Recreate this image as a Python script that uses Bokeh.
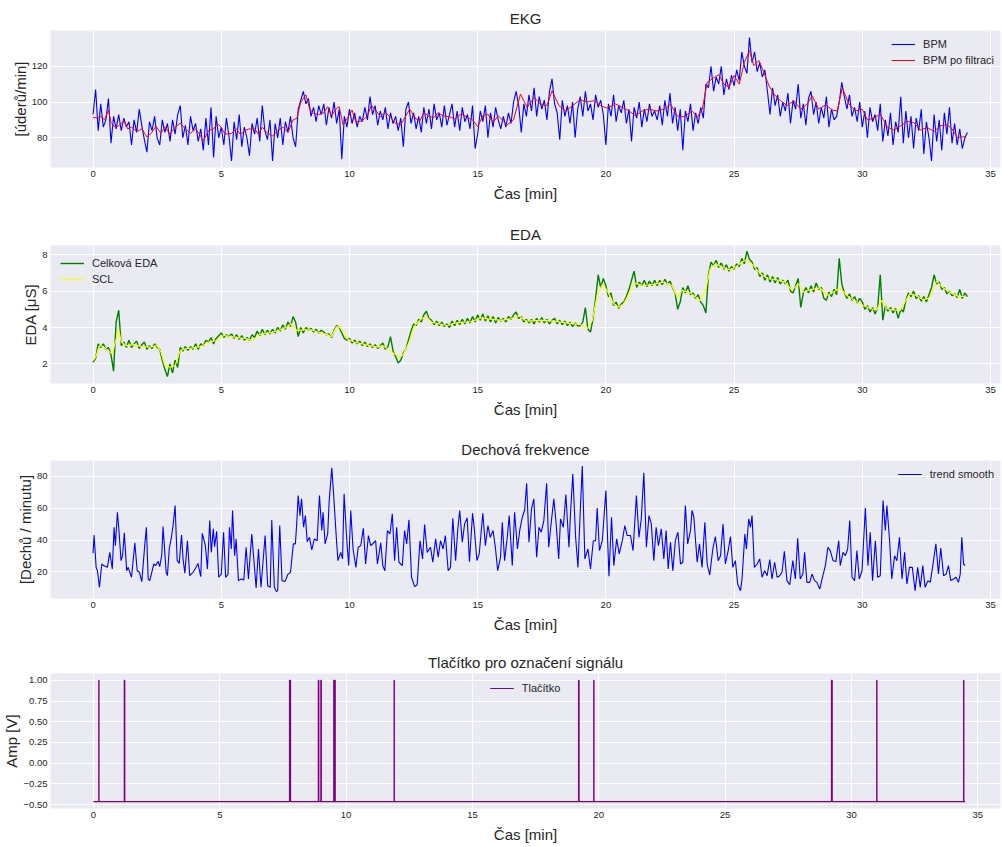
import numpy as np
from bokeh.plotting import figure
from bokeh.layouts import column
from bokeh.models import Range1d, FixedTicker
from bokeh.embed import file_html
from bokeh.resources import INLINE

FONT = "Liberation Sans"
TXT = "#262626"
BG = "#EAEAF2"

# ---------------- EKG ----------------
bpm_step = 0.1  # min
bpm_raw = [
    93, 107, 84, 99, 86, 90, 102, 77, 92, 85,
    93, 84, 91, 86, 89, 76, 90, 83, 96, 87,
    79, 72, 89, 84, 92, 80, 76, 90, 83, 88,
    78, 90, 82, 93, 98, 80, 87, 76, 92, 84,
    88, 78, 85, 73, 91, 76, 97, 69, 92, 80,
    86, 76, 91, 81, 67, 89, 79, 93, 75, 86,
    80, 70, 88, 82, 91, 78, 98, 84, 79, 90,
    67, 88, 80, 91, 76, 89, 83, 92, 80, 75,
    96, 101, 106, 99, 102, 92, 97, 89, 98, 93,
    99, 87, 97, 91, 100, 88, 96, 68, 92, 86,
    96, 88, 94, 86, 92, 89, 97, 90, 103, 93,
    98, 87, 95, 90, 97, 85, 94, 88, 92, 84,
    91, 75, 96, 100, 88, 94, 85, 92, 83, 97,
    88, 96, 85, 99, 90, 94, 86, 98, 87, 93,
    99, 86, 95, 84, 97, 89, 93, 85, 98, 74,
    82, 95, 89, 98, 80, 94, 86, 97, 90, 85,
    92, 86, 94, 88, 100, 106, 98, 83, 99, 92,
    104, 95, 108, 92, 103, 96, 101, 90, 106, 113,
    99, 94, 79, 101, 92, 98, 88, 100, 80, 96,
    103, 92, 106, 95, 99, 90, 104, 97, 101, 93,
    76, 99, 92, 104, 89, 98, 94, 101, 88, 96,
    78, 97, 91, 100, 86, 96, 89, 99, 92, 95,
    90, 98, 87, 101, 92, 105, 88, 97, 84, 96,
    73, 95, 89, 99, 84, 94, 88, 97, 91, 110,
    108, 120, 106, 114, 110, 120, 104, 113, 107, 115,
    109, 118, 112, 128, 120, 116, 136, 122, 128, 117,
    122, 114, 118, 106, 93, 108, 98, 104, 92, 100,
    95, 105, 88, 101, 96, 110, 91, 99, 87, 102,
    106, 93, 100, 88, 97, 91, 103, 86, 96, 90,
    92, 100, 111, 103, 96, 104, 92, 97, 89, 100,
    86, 95, 80, 97, 89, 93, 84, 99, 78, 90,
    81, 94, 76, 89, 83, 103, 77, 95, 80, 92,
    74, 91, 84, 96, 71, 89, 80, 67, 93, 78,
    90, 73, 94, 82, 97, 77, 88, 76, 85, 74,
    80, 83,
]
filt_t = [
    0, 0.2, 0.3, 0.45, 0.6, 0.7, 0.85, 1.0, 1.2, 1.35,
    1.5, 1.7, 1.9, 2.1, 2.3, 2.45, 2.65, 2.8, 3.0, 3.2,
    3.4, 3.6, 3.8, 4.0, 4.15, 4.3, 4.5, 4.7, 4.85, 5.0,
    5.15, 5.4, 5.6, 5.75, 5.9, 6.1, 6.3, 6.45, 6.6, 6.8,
    7.0, 7.2, 7.4, 7.6, 7.8, 7.95, 8.1, 8.3, 8.45, 8.6,
    8.8, 9.0, 9.15, 9.3, 9.5, 9.6, 9.75, 9.9, 10.1, 10.25,
    10.5, 10.7, 10.85, 11.0, 11.2, 11.4, 11.6, 11.8, 12.0, 12.2,
    12.35, 12.6, 12.75, 12.9, 13.1, 13.3, 13.45, 13.65, 13.9, 14.1,
    14.35, 14.6, 14.8, 15.0, 15.2, 15.4, 15.6, 15.8, 16.15, 16.4,
    16.67, 16.93, 17.2, 17.45, 17.7, 17.9, 18.17, 18.43, 18.7, 19.0,
    19.27, 19.53, 19.8, 20.05, 20.38, 20.64, 20.9, 21.16, 21.42, 21.68,
    22.0, 22.33, 22.52, 22.78, 23.04, 23.37, 23.56, 23.76, 23.95, 24.2,
    24.4, 24.6, 24.8, 25.0, 25.2, 25.4, 25.6, 25.77, 25.97, 26.16,
    26.36, 26.55, 26.81, 27.07, 27.33, 27.6, 27.85, 28.05, 28.3, 28.57,
    28.83, 29.02, 29.22, 29.48, 29.74, 30.0, 30.2, 30.45, 30.7, 30.97,
    31.23, 31.5, 31.75, 32.0, 32.27, 32.53, 32.8, 33.05, 33.3, 33.5,
    33.7, 33.97, 34.05,
]
filt_v = [
    91.4, 91, 92, 90, 95.5, 88.6, 86, 86.7, 89.5, 85,
    86, 83.5, 85, 80.5, 83, 86.5, 82.5, 86, 82, 86,
    88.2, 85, 82.5, 85, 82, 78.3, 84, 85, 87.7, 86,
    82, 82.5, 85, 81.7, 84, 85, 85, 82, 86, 82.6,
    81, 84, 86, 83, 90, 91, 100, 104, 96, 93.6,
    93, 94, 97.4, 92.3, 96.6, 97.4, 87.3, 90.5, 95.5, 88.6,
    89.5, 92.3, 98, 96, 91.8, 94.2, 91.4, 88, 87.3, 92.3,
    96, 90.5, 89.5, 94.2, 91.8, 91.4, 94, 92.3, 91.8, 90.5,
    93.3, 91.4, 90, 86.2, 92.3, 93.3, 88.6, 92.3, 87.3, 90,
    104.5, 97, 102.6, 98.9, 98, 106.3, 98, 95, 98, 101.3,
    100, 100.7, 98, 96.6, 98.9, 97, 95, 92.3, 95, 96,
    95, 96.4, 98.9, 92.3, 91.8, 95, 91.4, 96, 111, 113.5,
    115.3, 110, 108.2, 114.8, 110, 122.2, 128.8, 120.4, 123.2, 116.6,
    109.2, 104.5, 100.7, 98, 100.7, 96, 98.9, 103.5, 96, 98.5,
    95.5, 95, 107.9, 98.9, 95, 96, 90, 91, 93.3, 86.2,
    84.3, 86.7, 89.2, 88.6, 84.3, 85.8, 83.5, 86.7, 87.3, 85,
    80.2, 80.6, 80.2,
]

# ---------------- EDA ----------------
eda_step = 0.1
eda_total = [
    2.1, 2.3, 3.1, 2.9, 3.1, 2.8, 2.9, 2.5, 1.6, 4.3,
    4.95, 3.0, 3.2, 2.9, 3.3, 2.9, 3.1, 3.25, 2.85, 3.05,
    3.2, 2.8, 3.0, 2.85, 3.1, 2.9, 2.8, 2.2, 1.7, 1.3,
    2.0, 1.5, 2.2, 1.8, 2.9, 2.7, 2.95, 2.75, 2.95, 2.8,
    3.1, 2.8, 3.1, 3.0, 3.3, 3.2, 3.45, 3.1, 3.4, 3.55,
    3.7, 3.45, 3.6, 3.5, 3.65, 3.4, 3.6, 3.35, 3.55, 3.3,
    3.45, 3.3, 3.6, 3.45, 3.8, 3.55, 3.9, 3.6, 3.85, 3.65,
    3.9, 3.7, 4.0, 3.8, 4.15, 3.9, 4.3, 4.05, 4.6, 4.3,
    3.5, 4.0, 3.7, 4.0, 3.85, 3.95, 3.75, 3.9, 3.7, 3.85,
    3.75, 3.6, 3.65, 3.45, 3.85, 4.1, 4.0, 3.7, 3.4, 3.3,
    3.4, 3.15, 3.3, 3.1, 3.25, 3.0, 3.2, 2.95, 3.1, 2.9,
    3.05, 2.85, 3.0, 3.15, 2.8, 2.95, 3.5, 2.7, 2.4, 2.05,
    2.2, 2.6, 2.8, 3.3, 3.8, 4.2, 4.1, 4.45, 4.3, 4.7,
    4.9, 4.5, 4.4, 4.15, 4.35, 4.1, 4.3, 4.05, 4.2, 4.0,
    4.35, 4.1, 4.4, 4.15, 4.45, 4.2, 4.5, 4.25, 4.6, 4.3,
    4.7, 4.4, 4.75, 4.35, 4.65, 4.3, 4.6, 4.25, 4.55, 4.35,
    4.5, 4.3, 4.6, 4.45, 4.7, 4.85, 4.5, 4.6, 4.3, 4.45,
    4.25, 4.45, 4.2, 4.5, 4.3, 4.55, 4.25, 4.45, 4.2, 4.4,
    4.5, 4.2, 4.4, 4.15, 4.35, 4.1, 4.3, 4.05, 4.25, 4.1,
    4.1, 4.3, 5.1, 3.9, 3.75, 4.5, 5.6, 6.9, 6.2, 6.7,
    6.3, 5.7, 5.9, 5.2, 5.4, 5.05, 5.3, 5.4, 5.7, 6.1,
    6.6, 7.1, 6.2, 6.5, 6.3, 6.6, 6.25, 6.55, 6.3, 6.6,
    6.3, 6.6, 6.35, 6.65, 6.4, 6.55, 6.2, 5.9, 5.0, 5.4,
    6.2, 5.9, 6.3, 5.8, 5.9, 5.6, 5.8, 5.4, 5.2, 4.8,
    6.9, 7.6, 7.4, 7.7, 7.3, 7.55, 7.2, 7.45, 7.1, 7.35,
    7.2, 7.5, 7.35, 7.8, 7.5, 8.2, 7.75, 7.6, 7.2, 7.3,
    6.8, 7.0, 6.6, 6.9, 6.5, 6.8, 6.45, 6.75, 6.4, 6.6,
    6.4, 6.6, 6.0, 5.9, 6.3, 6.7, 5.1, 5.9, 6.2, 5.9,
    6.3, 5.95, 6.45, 6.1, 6.2, 5.6, 5.5, 5.95, 5.7, 6.1,
    5.8, 7.8, 6.4, 5.9, 5.6, 5.85, 5.5, 5.7, 5.35, 5.6,
    5.4, 5.0, 5.2, 4.85, 5.1, 4.75, 5.1, 6.9, 4.4, 5.2,
    4.9, 5.1, 4.8, 5.05, 4.5, 5.0, 4.85, 5.5, 5.9, 5.7,
    6.0, 5.6, 5.75, 5.45, 5.7, 5.4, 5.8, 6.2, 6.9, 6.4,
    6.5, 6.1, 6.2, 5.85, 6.0, 5.75, 5.85, 5.65, 6.1, 5.6,
    5.9, 5.7,
]
scl_t = [
    0, 0.1, 0.25, 0.4, 0.55, 0.75, 0.85, 1.0, 1.1, 1.3,
    1.6, 1.9, 2.2, 2.5, 2.65, 2.8, 3.0, 3.2, 3.4, 3.6,
    3.9, 4.2, 4.5, 4.8, 5.1, 5.4, 5.7, 6.0, 6.2, 6.5,
    6.8, 7.0, 7.3, 7.55, 7.75, 7.95, 8.2, 8.5, 8.8, 9.1,
    9.3, 9.5, 9.65, 9.9, 10.2, 10.5, 10.8, 11.1, 11.3, 11.5,
    11.75, 11.95, 12.1, 12.3, 12.55, 12.8, 13.0, 13.2, 13.5, 13.8,
    14.1, 14.4, 14.8, 15.1, 15.5, 15.9, 16.3, 16.6, 16.9, 17.45,
    17.98, 18.5, 19.0, 19.27, 19.47, 19.66, 19.86, 20.05, 20.3, 20.5,
    20.7, 20.9, 21.1, 21.48, 21.87, 22.26, 22.58, 22.78, 22.97, 23.3,
    23.68, 23.88, 24.07, 24.27, 24.6, 24.85, 25.1, 25.3, 25.5, 25.76,
    26.02, 26.34, 26.67, 26.99, 27.25, 27.51, 27.7, 27.96, 28.35, 28.61,
    28.87, 29.13, 29.39, 29.71, 30.04, 30.36, 30.56, 30.75, 30.95, 31.2,
    31.47, 31.66, 31.85, 32.11, 32.37, 32.63, 32.89, 33.15, 33.48, 33.74,
    34.0,
]
scl_v = [
    2.18, 2.37, 3.0, 2.95, 2.77, 2.55, 3.1, 3.87, 3.2, 3.0,
    3.06, 2.95, 2.92, 3.0, 2.64, 1.9, 1.82, 1.9, 2.73, 2.83,
    2.88, 2.95, 3.2, 3.28, 3.56, 3.5, 3.43, 3.38, 3.28, 3.62,
    3.69, 3.74, 3.87, 4.02, 4.2, 3.83, 3.87, 3.87, 3.74, 3.62,
    3.5, 4.05, 3.98, 3.38, 3.19, 3.1, 3.0, 2.92, 3.0, 2.83,
    2.55, 2.37, 2.51, 3.1, 4.11, 4.48, 4.6, 4.29, 4.2, 4.11,
    4.24, 4.28, 4.33, 4.53, 4.46, 4.39, 4.48, 4.64, 4.35, 4.39,
    4.35, 4.24, 4.17, 3.93, 4.39, 5.76, 6.37, 6.04, 5.3, 5.12,
    5.3, 5.85, 6.44, 6.31, 6.37, 6.5, 6.31, 5.67, 6.04, 5.89,
    5.49, 6.04, 7.23, 7.5, 7.28, 7.17, 7.36, 7.6, 7.72, 7.41,
    6.95, 6.68, 6.62, 6.5, 6.04, 6.4, 5.94, 6.07, 6.18, 5.76,
    5.94, 6.18, 5.76, 5.49, 5.21, 5.03, 4.97, 5.49, 5.03, 4.97,
    4.94, 5.39, 5.85, 5.76, 5.52, 5.63, 6.55, 6.18, 5.89, 5.71,
    5.71,
]

# ---------------- Dechová frekvence ----------------
resp_t = [
    0.0, 0.04, 0.12, 0.17, 0.25, 0.34, 0.41, 0.56, 0.65, 0.75,
    0.82, 0.87, 0.95, 1.01, 1.09, 1.15, 1.22, 1.31, 1.37, 1.5,
    1.63, 1.72, 1.81, 1.9, 2.02, 2.08, 2.15, 2.21, 2.37, 2.44,
    2.54, 2.6, 2.68, 2.73, 2.85, 2.9, 2.97, 3.06, 3.12, 3.2,
    3.28, 3.36, 3.45, 3.51, 3.58, 3.68, 3.77, 3.9, 4.03, 4.09,
    4.2, 4.26, 4.38, 4.46, 4.55, 4.61, 4.69, 4.74, 4.82, 4.9,
    5.0, 5.09, 5.17, 5.26, 5.32, 5.39, 5.44, 5.52, 5.58, 5.67,
    5.78, 5.88, 5.97, 6.06, 6.19, 6.36, 6.45, 6.55, 6.71, 6.81,
    6.91, 6.97, 7.07, 7.15, 7.2, 7.28, 7.37, 7.49, 7.59, 7.7,
    7.81, 7.89, 7.94, 8.0, 8.07, 8.13, 8.21, 8.28, 8.35, 8.44,
    8.53, 8.63, 8.74, 8.83, 8.92, 8.97, 9.05, 9.15, 9.21, 9.31,
    9.38, 9.49, 9.55, 9.66, 9.73, 9.79, 9.9, 9.97, 10.05, 10.14,
    10.25, 10.34, 10.44, 10.54, 10.63, 10.74, 10.83, 10.93, 11.02, 11.09,
    11.22, 11.3, 11.38, 11.48, 11.58, 11.67, 11.76, 11.84, 11.93, 12.06,
    12.15, 12.23, 12.32, 12.42, 12.54, 12.64, 12.75, 12.85, 12.93, 13.03,
    13.16, 13.25, 13.36, 13.46, 13.55, 13.65, 13.74, 13.85, 13.94, 14.03,
    14.14, 14.22, 14.3, 14.4, 14.49, 14.59, 14.68, 14.8, 14.87, 14.97,
    15.06, 15.2, 15.3, 15.4, 15.49, 15.6, 15.69, 15.78, 15.89, 15.96,
    16.05, 16.16, 16.23, 16.35, 16.44, 16.55, 16.64, 16.74, 16.83, 16.91,
    17.0, 17.1, 17.19, 17.3, 17.39, 17.48, 17.58, 17.69, 17.77, 17.87,
    17.97, 18.05, 18.16, 18.23, 18.34, 18.44, 18.56, 18.62, 18.71, 18.82,
    18.91, 18.99, 19.08, 19.18, 19.3, 19.4, 19.51, 19.6, 19.66, 19.75,
    19.86, 20.0, 20.12, 20.22, 20.31, 20.42, 20.52, 20.64, 20.74, 20.83,
    20.96, 21.06, 21.19, 21.29, 21.38, 21.48, 21.58, 21.68, 21.77, 21.87,
    21.96, 22.05, 22.16, 22.26, 22.35, 22.43, 22.52, 22.61, 22.71, 22.81,
    22.91, 23.0, 23.1, 23.19, 23.3, 23.36, 23.43, 23.56, 23.65, 23.75,
    23.86, 23.95, 24.05, 24.17, 24.27, 24.38, 24.47, 24.57, 24.66, 24.77,
    24.86, 24.95, 25.05, 25.14, 25.25, 25.31, 25.42, 25.48, 25.57, 25.64,
    25.7, 25.79, 25.9, 26.0, 26.09, 26.19, 26.29, 26.39, 26.48, 26.58,
    26.68, 26.78, 26.87, 26.96, 27.06, 27.17, 27.29, 27.39, 27.48, 27.58,
    27.68, 27.75, 27.84, 27.95, 28.04, 28.14, 28.23, 28.34, 28.43, 28.56,
    28.66, 28.75, 28.86, 28.97, 29.08, 29.14, 29.25, 29.34, 29.43, 29.51,
    29.6, 29.7, 29.79, 29.88, 29.99, 30.12, 30.22, 30.31, 30.4, 30.51,
    30.6, 30.7, 30.81, 30.9, 30.96, 31.06, 31.15, 31.26, 31.35, 31.45,
    31.55, 31.65, 31.74, 31.84, 31.95, 32.06, 32.16, 32.26, 32.36, 32.45,
    32.56, 32.65, 32.75, 32.87, 32.97, 33.06, 33.17, 33.27, 33.36, 33.45,
    33.56, 33.66, 33.75, 33.82, 33.88, 33.95, 34.01,
]
resp_v = [
    31.7, 43.2, 22.9, 20.8, 10.4, 25, 24, 22.9, 32.3, 21.9,
    48, 36.5, 57.4, 46, 27.1, 30.2, 44.5, 20.8, 22.9, 16.7,
    38.2, 20.8, 19.8, 13.9, 37.6, 48, 15.6, 14.6, 25, 24,
    26.7, 23.3, 30.7, 48.4, 19.8, 17.7, 34.4, 42.2, 49.1, 61.6,
    27.1, 25.4, 43.2, 28.2, 19.2, 39.6, 17.7, 19.8, 23.3, 25.4,
    17.1, 44.2, 36.5, 21.9, 52.2, 32.3, 47, 35.9, 45.5, 16.7,
    18.7, 44.9, 16.7, 18.3, 48, 34.4, 58.5, 30.2, 40.7, 14.6,
    15.6, 15, 35.5, 15.6, 43.8, 10, 34.4, 10.4, 42.8, 11.4,
    10.4, 52.6, 10.4, 7.7, 8.3, 49.1, 14.6, 14.1, 18.3, 19.8,
    37.6, 37.6, 49.5, 67.9, 55.3, 65.8, 48, 55.3, 39, 41.7,
    33.8, 40.7, 39.6, 67.9, 46, 57.4, 37.6, 43.8, 64.7, 85.2,
    68.9, 40.7, 27.1, 32.3, 28.2, 68.9, 38.6, 24, 58.5, 34.4,
    22.9, 35.5, 36.5, 47.4, 25, 42.8, 36.5, 38, 39.6, 25,
    38.2, 24, 20.8, 46, 43.8, 56.4, 27.1, 48, 26.1, 24,
    46, 37.6, 52.6, 16.7, 10.8, 12, 39.6, 28.2, 49.7, 32.3,
    35.5, 26.1, 40.7, 29.2, 39.6, 34.4, 42.8, 20.8, 22.9, 53.6,
    27.1, 46, 58.5, 38.6, 50.1, 53.9, 26.5, 56.8, 47, 27.1,
    31.3, 56.8, 36.5, 49.1, 41.7, 46, 35.5, 20.8, 29.2, 51.1,
    27.1, 42.8, 55.3, 24, 57.4, 34.4, 46, 54.3, 58.5, 75.6,
    38.6, 59.5, 65.8, 29.2, 48, 44.9, 52.2, 75.6, 35.5, 51.1,
    65.8, 52.2, 28.2, 53.2, 48, 68.5, 35.5, 56.4, 81.4, 41.7,
    22.9, 54.3, 86.3, 28.2, 34.4, 21.9, 39.6, 39.6, 60.1, 33.4,
    39.6, 71, 17.3, 54.3, 24, 40.7, 31.3, 39.6, 49.1, 42.8,
    42.8, 33.4, 67.9, 41.7, 53.2, 82.1, 35.5, 55.3, 50.1, 27.1,
    48, 36.5, 47, 28.2, 46, 21.9, 38.6, 20.8, 39.6, 44.9,
    25, 26.1, 61.6, 37.6, 46, 58.5, 54.3, 26.1, 37.6, 22.9,
    51.1, 25, 18.1, 34.4, 42.2, 27.1, 30.2, 50.1, 25, 33.4,
    42.2, 22.9, 27.1, 12.5, 8.3, 15.6, 43.8, 34.4, 53.2, 48,
    55.3, 22.9, 25, 28.2, 16.7, 20.8, 17.7, 27.7, 15.6, 26.1,
    16.7, 17.7, 19.8, 33, 14.6, 12, 27.1, 15.6, 41.1, 15.6,
    18.7, 32.3, 13.5, 13.5, 18.7, 14.6, 13.5, 9.3, 15.6, 24,
    35.5, 33.4, 27.1, 26.5, 39.6, 24, 32.3, 30.2, 34.4, 52.2,
    16.7, 14.6, 33.4, 15.6, 20.8, 60.1, 24, 44.9, 14.6, 39.6,
    16.7, 17.7, 64.7, 46, 61.6, 40.7, 15.6, 30.2, 27.1, 41.7,
    15.6, 32.3, 12.5, 22.9, 22.9, 8.3, 22.9, 10.4, 24, 10.4,
    14.6, 13.5, 24, 37.6, 18.7, 35, 17.7, 18.7, 24, 14.6,
    15.6, 16.7, 13.5, 18.7, 41.7, 25, 24,
]

# ---------------- Tlačítko ----------------
press_t = [0.21, 1.22, 7.76, 8.90, 9.00, 9.51, 9.55, 11.90, 19.20, 19.80, 29.21, 31.00, 34.44]
press_w = [0.01, 0.02, 0.04, 0.02, 0.02, 0.02, 0.02, 0.01, 0.02, 0.01, 0.03, 0.01, 0.01]
btn_low = -0.465
btn_high = 1.0
btn_end = 34.5

btn_x = [0.0]
btn_y = [btn_low]
for t, w in zip(press_t, press_w):
    btn_x += [t, t, t + w, t + w]
    btn_y += [btn_low, btn_high, btn_high, btn_low]
btn_x.append(btn_end)
btn_y.append(btn_low)

bpm_t = list(np.round(np.arange(len(bpm_raw)) * bpm_step, 3))
eda_t = list(np.round(np.arange(len(eda_total)) * eda_step, 3))

x_ticks = [0, 5, 10, 15, 20, 25, 30, 35]


def make_fig(title, height, top, bottom, xr, yr, yticks, ylabel, title_standoff=6, overrides=None):
    p = figure(width=1002, height=height, x_range=Range1d(*xr), y_range=Range1d(*yr),
               output_backend="svg", toolbar_location=None,
               min_border_left=48, min_border_right=2,
               min_border_top=top, min_border_bottom=bottom,
               background_fill_color=BG, border_fill_color="white",
               outline_line_color=None, title=title)
    p.title.align = "center"
    p.title.text_font = FONT
    p.title.text_font_size = "15px"
    p.title.text_font_style = "normal"
    p.title.text_color = TXT
    p.title.standoff = title_standoff
    p.xaxis.ticker = FixedTicker(ticks=x_ticks)
    p.yaxis.ticker = FixedTicker(ticks=yticks)
    if overrides:
        p.yaxis.major_label_overrides = overrides
    p.xaxis.axis_label = "Čas [min]"
    p.yaxis.axis_label = ylabel
    for ax in (p.xaxis[0], p.yaxis[0]):
        ax.axis_line_color = None
        ax.major_tick_line_color = None
        ax.minor_tick_line_color = None
        ax.major_tick_out = 0
        ax.major_tick_in = 0
        ax.major_label_text_font = FONT
        ax.major_label_text_font_size = "9.5px"
        ax.major_label_text_color = TXT
        ax.axis_label_text_font = FONT
        ax.axis_label_text_font_style = "normal"
        ax.axis_label_text_color = TXT
    p.xaxis.major_label_standoff = 3
    p.xaxis.axis_label_standoff = 5
    p.xaxis.axis_label_text_font_size = "15px"
    p.yaxis.major_label_standoff = 3
    p.yaxis.axis_label_standoff = 0
    p.yaxis.axis_label_text_font_size = "15px"
    p.xgrid.grid_line_color = "white"
    p.ygrid.grid_line_color = "white"
    p.xgrid.grid_line_width = 1
    p.ygrid.grid_line_width = 1
    return p


def style_legend(p, loc, margin, padding):
    lg = p.legend[0]
    lg.location = loc
    lg.background_fill_alpha = 0
    lg.border_line_alpha = 0
    lg.label_text_font = FONT
    lg.label_text_font_size = "11px"
    lg.label_text_color = TXT
    lg.glyph_width = 24
    lg.glyph_height = 16
    lg.label_height = 16
    lg.label_standoff = 8
    lg.spacing = 0
    lg.padding = padding
    lg.margin = margin


xr_a = (-1.66, 35.39)
xr_b = (-1.70, 35.90)

p1 = make_fig("EKG", 205, 30, 38, xr_a, (63.4, 140), [80, 100, 120], "[úderů/min]", title_standoff=8)
p1.line(bpm_t, bpm_raw, line_color="blue", line_width=1.1, legend_label="BPM")
p1.line(filt_t, filt_v, line_color="red", line_width=1.0, legend_label="BPM po filtraci")
style_legend(p1, "top_right", 2, 4)

p2 = make_fig("EDA", 216, 40, 38, xr_a, (0.92, 8.51), [2, 4, 6, 8], "EDA [μS]")
p2.line(eda_t, eda_total, line_color="green", line_width=1.4, legend_label="Celková EDA")
p2.line(scl_t, scl_v, line_color="yellow", line_width=1.2, legend_label="SCL")
style_legend(p2, "top_left", 6, 4)

p3 = make_fig("Dechová frekvence", 215, 39, 38, xr_a, (3.4, 89.8), [20, 40, 60, 80], "[Dechů / minutu]")
p3.line(resp_t, resp_v, line_color="blue", line_width=1.1, legend_label="trend smooth")
style_legend(p3, "top_right", 2, 4)

btn_ticks = [-0.5, -0.25, 0.0, 0.25, 0.5, 0.75, 1.0]
btn_labels = {-0.5: "−0.50", -0.25: "−0.25", 0.0: "0.00", 0.25: "0.25",
              0.5: "0.50", 0.75: "0.75", 1.0: "1.00"}
p4 = make_fig("Tlačítko pro označení signálu", 210, 37, 38, xr_b, (-0.547, 1.082),
              btn_ticks, "Amp [V]", title_standoff=6, overrides=btn_labels)
p4.line(btn_x, btn_y, line_color="purple", line_width=1.2, legend_label="Tlačítko")
style_legend(p4, "top_center", 3, 4)

layout = column(p1, p2, p3, p4, spacing=0)
open("out.html", "w").write(file_html(layout, INLINE))
